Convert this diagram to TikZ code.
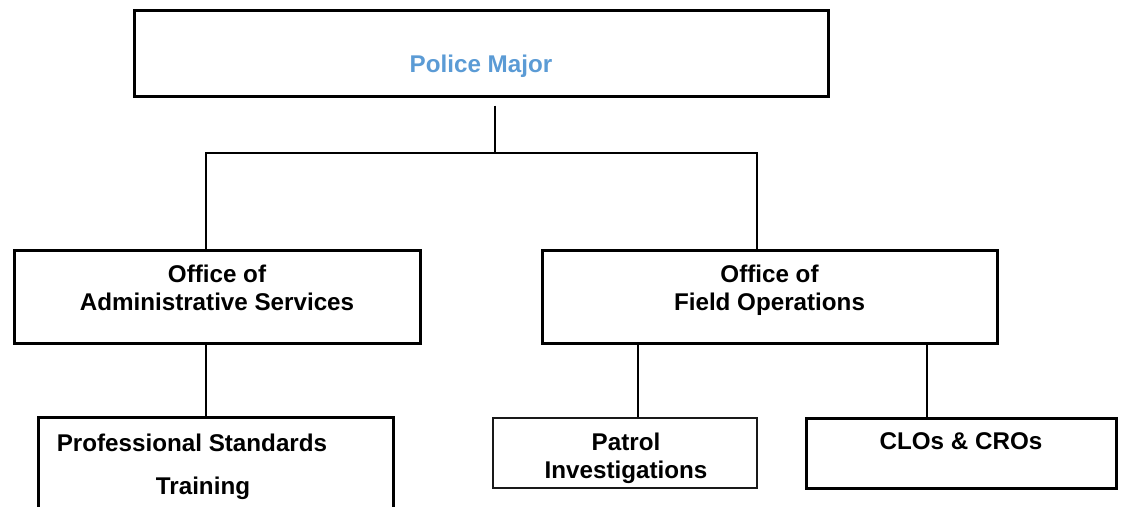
\documentclass[tikz,border=0pt]{standalone}
\usepackage{fontspec}
\setmainfont{Liberation Sans}
\usepackage{tikz}
\usetikzlibrary{positioning}
\definecolor{majorblue}{RGB}{91,155,213}

\begin{document}
\begin{tikzpicture}[x=1pt,y=-1pt,every node/.style={font=\bfseries\fontsize{24.2}{28}\selectfont},
		unit/.style={draw=black,line width=3pt,inner sep=0pt},
		link/.style={line width=2pt}]
			\clip (0,0) rectangle (1121,506);

			%top node
			\node [unit,minimum width=694,minimum height=86,
				label={[text=majorblue,yshift=-12.8pt]center:Police Major}] (major) at (481,53) {};

			%offices
			\node [unit,minimum width=406,minimum height=93,
				label={[align=center,yshift=8.5pt]center:{Office of\\Administrative Services}}] (admin) at (217,296.5) {};
			\node [unit,minimum width=455,minimum height=93,
				label={[align=center,yshift=6pt]center:{Office of\\Field Operations}}] (field) at (769.5,296.5) {};

			%units
			\node [unit,minimum width=355,minimum height=123,
				label={[align=center,xshift=-12.5pt,yshift=11.4pt]center:{Professional Standards\hspace*{22pt}\\[15pt]Training}}] (prof) at (215.5,478.5) {};
			\node [unit,draw=black!90,line width=2.5pt,minimum width=264,minimum height=70,
				label={[align=center,xshift=1pt,yshift=-5.6pt]center:{Patrol\\Investigations}}] (patrol) at (625,453) {};
			\node [unit,minimum width=310,minimum height=70,
				label={[yshift=11.7pt]center:CLOs \& CROs}] (clos) at (961,453) {};

			%edges
			\coordinate (bar) at (495,153);
			\draw[link,shorten <=8pt] ([xshift=14pt]major.south) -- (bar);
			\draw[link] ([xshift=-11pt]admin.north) |- (bar) -| ([xshift=-12.5pt]field.north);
			\draw[link] ([xshift=-11pt]admin.south) -- ([xshift=-11pt]admin.south |- prof.north);
			\draw[link] ([xshift=13pt]patrol.north) -- ([xshift=13pt]patrol.north |- field.south);
			\draw[link] ([xshift=-34pt]clos.north) -- ([xshift=-34pt]clos.north |- field.south);
		\end{tikzpicture}
\end{document}
